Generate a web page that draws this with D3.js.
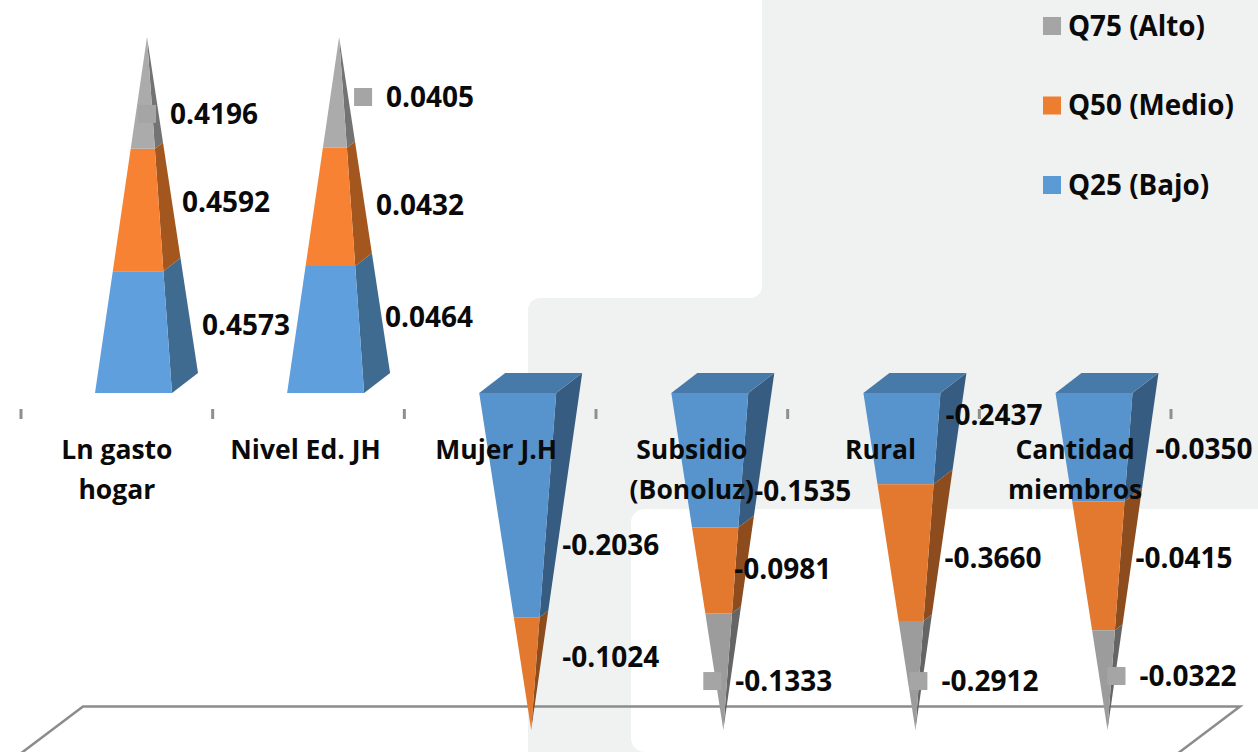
<!DOCTYPE html>
<html><head><meta charset="utf-8">
<script src="https://cdn.jsdelivr.net/npm/d3@7"></script>
<style>html,body{margin:0;padding:0;background:#fff;overflow:hidden}svg{display:block}
text{font-family:"Open Sans",Lato,sans-serif;font-weight:700;fill:#0a0a0a}</style>
</head><body><svg id="c" width="1258" height="752"></svg>
<script>
const categories = [["Ln gasto","hogar"],["Nivel Ed. JH"],["Mujer J.H"],["Subsidio","(Bonoluz)"],["Rural"],["Cantidad","miembros"]];
const q25 = [0.4573,0.0464,-0.2036,-0.1535,-0.2437,-0.0350];
const q50 = [0.4592,0.0432,-0.1024,-0.0981,-0.3660,-0.0415];
const q75 = [0.4196,0.0405,null,-0.1333,-0.2912,-0.0322];
const seriesNames = ["Q25 (Bajo)","Q50 (Medio)","Q75 (Alto)"];

// layout only: label nudges (dx from the pyramid's front-left corner, dy from segment middle)
const labelDx = [[107,87,75],[98,89,99],[83,83,0],[83,63,64],[82,81,78],[100,80,84]];
const labelDy = [[-7,-8,21],[-12.5,-2,4.6],[40,-16.6,0],[31,-1.4,9.4],[-23.6,5.3,5.5],[1.8,-7.8,-4.1]];
const catNudge = [0,-3,-4,0,-3,0];

const numSize = 28, catSize = 26.5, legSize = 27.8, W = 77, DX = 26, DY = -20, APEX = 52;
const pal = {
  pos:[{f:"#5f9fdd",s:"#3f6b91"},{f:"#f78233",s:"#a3571f"},{f:"#ababab",s:"#737373"}],
  neg:[{f:"#5793cc",s:"#375c82"},{f:"#e3782f",s:"#8d4c1d"},{f:"#9c9c9c",s:"#656565"}]
};
const legendCol = ["#5b9bd5","#ed7d31","#a5a5a5"];
const fmt = v => (v<0?"-":"")+d3.format(".4f")(Math.abs(v));

const svg = d3.select("#c");
const idx = d3.range(categories.length);
const x = d3.scaleBand().domain(idx).range([95, 95 + 192.1*6]);
const xAxisBand = d3.scaleBand().domain(idx).range([21, 1171]);
const y = d3.scaleLinear().domain([-1,0,1]).range([730,393,37]); // 100% stacked share

// panel background
svg.append("path").attr("fill","#f0f2f1")
 .attr("d","M762,0 L1258,0 L1258,509 L645,509 A14,14 0 0 0 631,523 L631,738 A14,14 0 0 0 645,752 L528,752 L528,310 A12,12 0 0 1 540,298 L750,298 A12,12 0 0 0 762,286 Z");

// floor
svg.append("path").attr("fill","none").attr("stroke","#8c8c8c").attr("stroke-width",2.5)
 .attr("d","M20,754 L83,706.5 L1240,706.5 L1177,754");

// ticks
svg.append("g").selectAll("rect").data(xAxisBand.domain().concat([idx.length])).join("rect")
 .attr("x",d=>(d<idx.length?xAxisBand(d):xAxisBand.range()[1])-1.5).attr("y",409).attr("width",3).attr("height",10).attr("fill","#8f8f8f");

const poly = pts => "M"+pts.map(p=>p.map(v=>v.toFixed(1)).join(",")).join("L")+"Z";
const lerp = (a,b,t)=>a+(b-a)*t;
const allLabels = [];

idx.forEach(i=>{
  const vals = [q25[i],q50[i],q75[i]].map(v=>v==null?0:v);
  const sign = d3.sum(vals)>=0?1:-1;
  const total = d3.sum(vals,Math.abs);
  const x0 = x(i), apexX = x0+APEX, y0=y(0), apexY=y(sign);
  const g = svg.append("g");
  const p = sign>0?pal.pos:pal.neg;
  const fl = t=>[lerp(x0,apexX,t), lerp(y0,apexY,t)];
  const fr = t=>[lerp(x0+W,apexX,t), lerp(y0,apexY,t)];
  const br = t=>[lerp(x0+W+DX,apexX,t), lerp(y0+DY,apexY,t)];
  let c=0;
  vals.forEach((v,k)=>{
    if(!v) return;
    const c1=c+Math.abs(v)/total;
    g.append("path").attr("d",poly([fr(c),br(c),br(c1),fr(c1)])).attr("fill",p[k].s);
    g.append("path").attr("d",poly([fl(c),fr(c),fr(c1),fl(c1)])).attr("fill",p[k].f);
    allLabels.push({k,v,cy:y(sign*(c+c1)/2)+labelDy[i][k],lx:x0+labelDx[i][k]});
    c=c1;
  });
  if(sign<0){
    g.append("path").attr("d",poly([[x0,y0],[x0+W,y0],[x0+W+DX,y0+DY],[x0+DX,y0+DY]])).attr("fill","#477aa9");
  }
});
// keys and labels on top of every pyramid
allLabels.filter(l=>l.k===2).forEach(l=>svg.append("rect").attr("x",l.lx-32).attr("y",l.cy-9).attr("width",18).attr("height",18).attr("fill",legendCol[2]));
// category labels
idx.forEach(i=>{
  const cx = xAxisBand(i)+xAxisBand.bandwidth()/2+catNudge[i];
  categories[i].forEach((t,r)=>svg.append("text").attr("x",cx).attr("y",450+40*r).attr("dy","0.35em").attr("text-anchor","middle").attr("font-size",catSize).text(t));
});
allLabels.forEach(l=>svg.append("text").attr("x",l.lx).attr("y",l.cy).attr("dy","0.35em").attr("font-size",numSize).text(fmt(l.v)));
// legend
const legendY = d3.scalePoint().domain([2,1,0]).range([26,185]);
[2,1,0].forEach(k=>{
  svg.append("rect").attr("x",1043).attr("y",legendY(k)-9).attr("width",18).attr("height",18).attr("fill",legendCol[k]);
  svg.append("text").attr("x",1068).attr("y",legendY(k)).attr("dy","0.35em").attr("font-size",legSize).text(seriesNames[k]);
});
</script></body></html>
